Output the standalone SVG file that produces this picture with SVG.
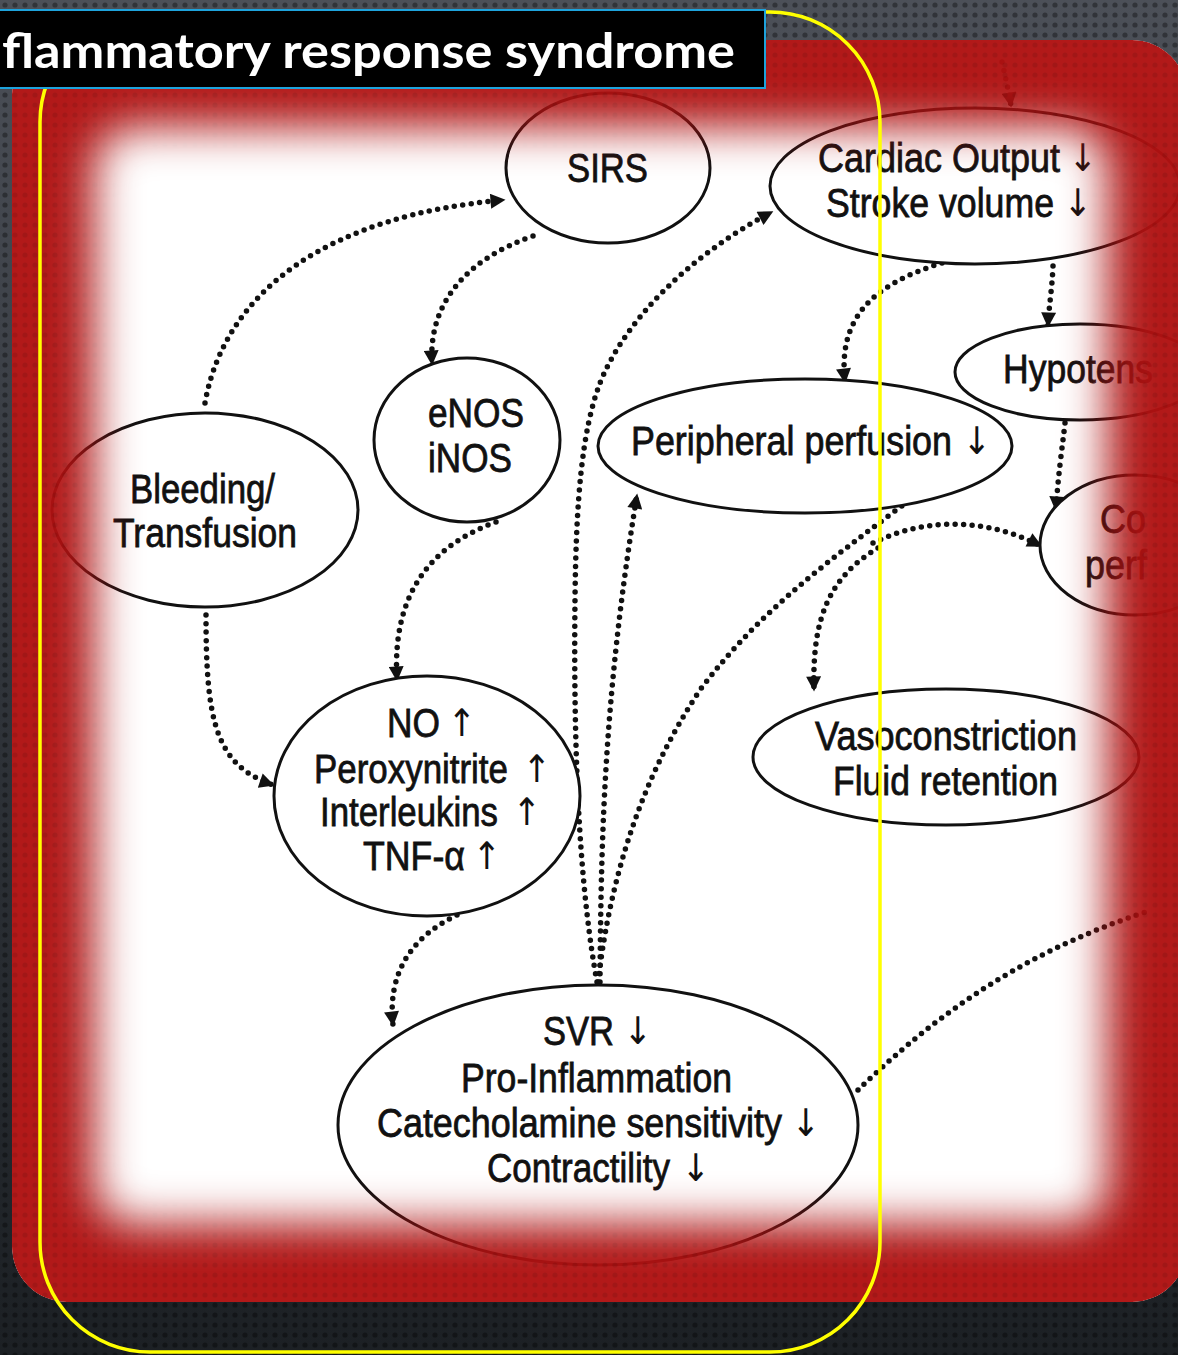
<svg xmlns="http://www.w3.org/2000/svg" width="1178" height="1355" viewBox="0 0 1178 1355">
<style>
.node ellipse{fill:#fff;stroke:#111;stroke-width:3}
.t{font-family:"Liberation Sans",Arial,sans-serif;font-size:36px;fill:#111;stroke:#111;stroke-width:0.7px;transform-box:fill-box;transform-origin:50% 78%;transform:scaleY(1.12)}
.a{font-family:"DejaVu Sans",sans-serif;font-size:34px;fill:#111;text-anchor:middle;transform-box:fill-box;transform-origin:50% 78%;transform:scaleY(1.12)}
.con path{fill:none;stroke:#111;stroke-width:5.5;stroke-linecap:round;stroke-dasharray:0 8.5}
.arr{marker-end:url(#ah)}
</style>
<defs>
<linearGradient id="bgGrad" x1="0" y1="0" x2="0" y2="1">
<stop offset="0" stop-color="#4c5058"/>
<stop offset="0.5" stop-color="#30343a"/>
<stop offset="1" stop-color="#1c2024"/>
</linearGradient>
<pattern id="dots" width="10" height="10" patternUnits="userSpaceOnUse">
<circle cx="5" cy="5" r="2.6" fill="#000" fill-opacity="0.35"/>
</pattern>
<filter id="blur" x="-15%" y="-15%" width="130%" height="130%">
<feGaussianBlur stdDeviation="22"/>
</filter>
<clipPath id="panelClip">
<rect x="12" y="40" width="1175" height="1262" rx="55"/>
</clipPath>
<mask id="frameMask" maskUnits="userSpaceOnUse" x="0" y="0" width="1178" height="1355">
<rect x="0" y="0" width="1178" height="1355" fill="#fff"/>
<rect x="95" y="128" width="1012" height="1095" rx="40" fill="#000" filter="url(#blur)"/>
</mask>
<marker id="ah" viewBox="0 0 10 10" refX="9" refY="5" markerWidth="17" markerHeight="15" markerUnits="userSpaceOnUse" orient="auto">
<path d="M0,0 L10,5 L0,10 z" fill="#111"/>
</marker>
</defs>

<!-- background -->
<rect x="0" y="0" width="1178" height="1355" fill="url(#bgGrad)"/>
<rect x="0" y="0" width="1178" height="1355" fill="url(#dots)"/>

<g clip-path="url(#panelClip)">
<!-- white panel -->
<rect x="12" y="40" width="1175" height="1262" rx="55" fill="#fff"/>

<!-- connectors -->
<g id="connectors" class="con">
<path class="arr" d="M205,403 C225,290 330,215 504,200"/>
<path class="arr" d="M533,236 C470,258 428,300 432,364"/>
<path class="arr" d="M496,522 C425,548 392,600 397,680"/>
<path class="arr" d="M206,615 C206,720 215,765 273,785"/>
<path class="arr" d="M457,915 C405,940 388,980 393,1025"/>
<path class="arr" d="M597,982 C582,900 573,780 575,600 C576,500 582,430 600,383 C625,320 690,255 772,212"/>
<path class="arr" d="M600,982 C601,850 603,700 637,495"/>
<path d="M598,982 C610,880 640,780 700,690 C760,610 830,560 907,502"/>
<path class="arr" d="M878,548 C828,578 812,620 814,690"/>
<path class="arr" d="M873,543 C930,515 990,520 1041,546"/>
<path class="arr" d="M942,263 C870,285 838,320 845,382"/>
<path class="arr" d="M1053,266 C1052,290 1049,305 1048,326"/>
<path class="arr" d="M1065,423 C1062,450 1058,475 1056,510"/>
<path class="arr" d="M1002,62 C1006,80 1009,92 1011,106"/>
<path d="M858,1090 C920,1030 1010,955 1152,910"/>
</g>

<!-- nodes -->
<g id="sirs" class="node">
<ellipse cx="608" cy="168" rx="102" ry="75"/>
<text class="t" x="567" y="182" textLength="81" lengthAdjust="spacingAndGlyphs">SIRS</text>
</g>
<g id="cardiac" class="node">
<ellipse cx="975" cy="186" rx="205" ry="78"/>
<text class="t" x="818" y="172" textLength="242" lengthAdjust="spacingAndGlyphs">Cardiac Output</text>
<text class="a" x="1083" y="171">↓</text>
<text class="t" x="826" y="217" textLength="228" lengthAdjust="spacingAndGlyphs">Stroke volume</text>
<text class="a" x="1078" y="216">↓</text>
</g>
<g id="hypotension" class="node">
<ellipse cx="1080" cy="372" rx="125" ry="48"/>
<text class="t" x="1003" y="383" textLength="150" lengthAdjust="spacingAndGlyphs">Hypotens</text>
</g>
<g id="enos" class="node">
<ellipse cx="467" cy="440" rx="93" ry="82"/>
<text class="t" x="428" y="427" textLength="96" lengthAdjust="spacingAndGlyphs">eNOS</text>
<text class="t" x="428" y="472" textLength="84" lengthAdjust="spacingAndGlyphs">iNOS</text>
</g>
<g id="peripheral" class="node">
<ellipse cx="805" cy="446" rx="207" ry="67"/>
<text class="t" x="631" y="455" textLength="321" lengthAdjust="spacingAndGlyphs">Peripheral perfusion</text>
<text class="a" x="977" y="454">↓</text>
</g>
<g id="bleeding" class="node">
<ellipse cx="205" cy="510" rx="153" ry="97"/>
<text class="t" x="130" y="503" textLength="145" lengthAdjust="spacingAndGlyphs">Bleeding/</text>
<text class="t" x="113" y="547" textLength="184" lengthAdjust="spacingAndGlyphs">Transfusion</text>
</g>
<g id="coronary" class="node">
<ellipse cx="1135" cy="545" rx="95" ry="70"/>
<text class="t" x="1100" y="533">Co</text>
<text class="t" x="1085" y="579">perf</text>
</g>
<g id="no" class="node">
<ellipse cx="427" cy="796" rx="153" ry="120"/>
<text class="t" x="387" y="737" textLength="53" lengthAdjust="spacingAndGlyphs">NO</text>
<text class="a" x="462" y="736">↑</text>
<text class="t" x="314" y="783" textLength="194" lengthAdjust="spacingAndGlyphs">Peroxynitrite</text>
<text class="a" x="537" y="782">↑</text>
<text class="t" x="320" y="826" textLength="178" lengthAdjust="spacingAndGlyphs">Interleukins</text>
<text class="a" x="527" y="825">↑</text>
<text class="t" x="363" y="870" textLength="102" lengthAdjust="spacingAndGlyphs">TNF-α</text>
<text class="a" x="487" y="869">↑</text>
</g>
<g id="vaso" class="node">
<ellipse cx="946" cy="757" rx="193" ry="68"/>
<text class="t" x="815" y="750" textLength="262" lengthAdjust="spacingAndGlyphs">Vasoconstriction</text>
<text class="t" x="833" y="795" textLength="225" lengthAdjust="spacingAndGlyphs">Fluid retention</text>
</g>
<g id="svr" class="node">
<ellipse cx="598" cy="1125" rx="260" ry="140"/>
<text class="t" x="543" y="1045" textLength="71" lengthAdjust="spacingAndGlyphs">SVR</text>
<text class="a" x="638" y="1044">↓</text>
<text class="t" x="461" y="1092" textLength="271" lengthAdjust="spacingAndGlyphs">Pro-Inflammation</text>
<text class="t" x="377" y="1137" textLength="405" lengthAdjust="spacingAndGlyphs">Catecholamine sensitivity</text>
<text class="a" x="806" y="1136">↓</text>
<text class="t" x="487" y="1182" textLength="183" lengthAdjust="spacingAndGlyphs">Contractility</text>
<text class="a" x="696" y="1181">↓</text>
</g>

<!-- red vignette frame -->
<g mask="url(#frameMask)">
<rect x="12" y="40" width="1175" height="1262" rx="55" fill="#b01212" fill-opacity="0.97"/>
<rect x="12" y="40" width="1175" height="1262" rx="55" fill="url(#dots)" fill-opacity="0.25"/>
</g>
</g>

<!-- yellow outline -->
<rect x="40" y="12" width="840" height="1340" rx="110" fill="none" stroke="#ffff00" stroke-width="3.5"/>

<!-- title -->
<g id="title">
<rect x="-2" y="10" width="767" height="78" fill="#000" stroke="#1ea3dc" stroke-width="2"/>
<text x="2" y="68" font-family="Lato,'Liberation Sans',sans-serif" font-weight="bold" font-size="48" fill="#fff" textLength="733" lengthAdjust="spacingAndGlyphs">flammatory response syndrome</text>
</g>
</svg>
